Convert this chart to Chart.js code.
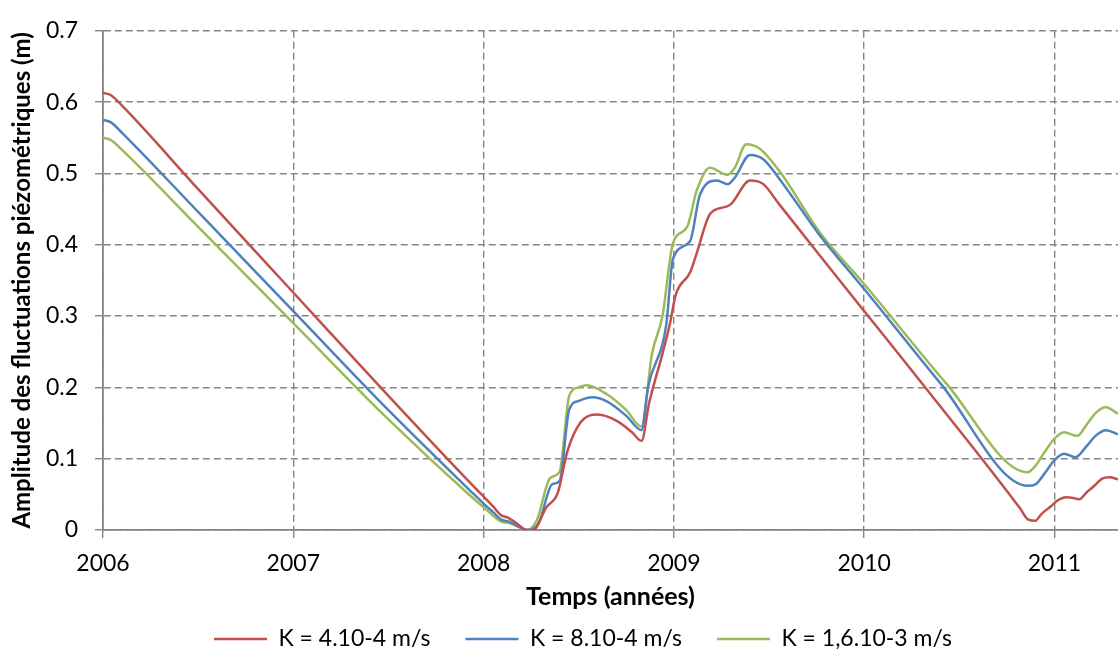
<!DOCTYPE html>
<html>
<head>
<meta charset="utf-8">
<script src="https://cdn.jsdelivr.net/npm/chart.js@4.4.1/dist/chart.umd.min.js"></script>
<style>
  html, body { margin: 0; padding: 0; background: #fff; }
  #wrap { width: 1118px; height: 657px; }
</style>
</head>
<body>
<div id="wrap"><canvas id="chart" width="1118" height="657"></canvas></div>
<script>
// values (x = decimal year, y = metres)
const seriesLabels = ['K = 4.10-4 m/s', 'K = 8.10-4 m/s', 'K = 1,6.10-3 m/s'];
const seriesColors = ['#C0504D', '#4F81BD', '#9BBB59'];

const redYears = [2006.00, 2006.04, 2006.10, 2006.5, 2007.0, 2007.5, 2007.93, 2008.0, 2008.05, 2008.09, 2008.13, 2008.17, 2008.228,
  2008.26, 2008.33, 2008.39, 2008.44, 2008.51, 2008.60, 2008.70, 2008.78, 2008.83, 2008.87, 2008.94, 2008.98, 2009.01,
  2009.085, 2009.12, 2009.19, 2009.27, 2009.30, 2009.40, 2009.47, 2009.55, 2009.77, 2010.0, 2010.5, 2010.82, 2010.86,
  2010.90, 2010.93, 2010.98, 2011.02, 2011.06, 2011.10, 2011.13, 2011.17, 2011.21, 2011.25, 2011.29, 2011.334];
const redValues = [0.613, 0.610, 0.595, 0.478, 0.333, 0.188, 0.066, 0.047, 0.033, 0.021, 0.017, 0.010, 0.0,
  0.0, 0.032, 0.052, 0.11, 0.151, 0.162, 0.153, 0.137, 0.125, 0.178, 0.247, 0.29, 0.33,
  0.361, 0.388, 0.443, 0.453, 0.457, 0.490, 0.485, 0.458, 0.384, 0.307, 0.14, 0.03, 0.015,
  0.013, 0.022, 0.033, 0.042, 0.046, 0.045, 0.043, 0.053, 0.062, 0.072, 0.074, 0.071];

const blueYears = [2006.00, 2006.04, 2006.10, 2006.5, 2007.0, 2007.5, 2007.93, 2008.0, 2008.05, 2008.09, 2008.13, 2008.17, 2008.228,
  2008.29, 2008.36, 2008.40, 2008.45, 2008.50, 2008.57, 2008.65, 2008.75, 2008.83, 2008.864, 2008.96, 2008.995,
  2009.085, 2009.137, 2009.226, 2009.284, 2009.32, 2009.40, 2009.47, 2009.55, 2009.77, 2010.0, 2010.40, 2010.86,
  2010.90, 2010.95, 2011.00, 2011.05, 2011.11, 2011.17, 2011.22, 2011.27, 2011.334];
const blueValues = [0.575, 0.572, 0.557, 0.446, 0.307, 0.168, 0.055, 0.037, 0.025, 0.015, 0.012, 0.007, 0.0,
  0.01, 0.064, 0.069, 0.169, 0.181, 0.186, 0.18, 0.16, 0.14, 0.2, 0.288, 0.38,
  0.405, 0.47, 0.49, 0.485, 0.494, 0.526, 0.52, 0.494, 0.412, 0.338, 0.206, 0.062,
  0.064, 0.08, 0.098, 0.107, 0.102, 0.118, 0.133, 0.14, 0.134];

const greenYears = [2006.00, 2006.04, 2006.10, 2006.5, 2007.0, 2007.5, 2007.93, 2008.0, 2008.05, 2008.09, 2008.13, 2008.17, 2008.228,
  2008.28, 2008.35, 2008.40, 2008.45, 2008.50, 2008.54, 2008.65, 2008.75, 2008.83, 2008.885, 2008.94, 2008.995,
  2009.07, 2009.12, 2009.19, 2009.28, 2009.32, 2009.38, 2009.45, 2009.55, 2009.77, 2010.0, 2010.43, 2010.86,
  2010.90, 2010.95, 2011.00, 2011.05, 2011.12, 2011.17, 2011.22, 2011.27, 2011.334];
const greenValues = [0.550, 0.547, 0.533, 0.425, 0.29, 0.155, 0.048, 0.032, 0.02, 0.012, 0.01, 0.006, 0.0,
  0.014, 0.073, 0.082, 0.188, 0.2, 0.203, 0.19, 0.168, 0.145, 0.247, 0.30, 0.402,
  0.425, 0.476, 0.508, 0.498, 0.508, 0.541, 0.535, 0.505, 0.416, 0.345, 0.206, 0.081,
  0.09, 0.11, 0.128, 0.137, 0.132, 0.148, 0.165, 0.172, 0.163];

const yearTicks = [2006, 2007, 2008, 2009, 2010, 2011];
const levelTicks = [0, 0.1, 0.2, 0.3, 0.4, 0.5, 0.6, 0.7];

const toPoints = (xs, ys) => xs.map((x, i) => ({ x: x, y: ys[i] }));
const allYears = [redYears, blueYears, greenYears];
const allValues = [redValues, blueValues, greenValues];

const gridColor = '#858585';
const fontFamily = 'Lato, "Open Sans", sans-serif';
Chart.defaults.font.family = fontFamily;
Chart.defaults.color = '#000';

// legend: fixed height, placed like the original
const legendPlacement = {
  id: 'legendPlacement',
  beforeInit(chart) {
    const fit = chart.legend.fit;
    chart.legend.fit = function () {
      fit.call(this);
      this.height = 40;
    };
  },
  afterLayout(chart) {
    const lg = chart.legend;
    lg.top = 592.5;
    lg.bottom = chart.height;
    lg.height = lg.bottom - lg.top;
    lg.left += 24;
    lg.right += 24;
  }
};

const ctx = document.getElementById('chart').getContext('2d');
new Chart(ctx, {
  type: 'line',
  data: {
    datasets: seriesLabels.map((label, i) => ({
      label: label,
      data: toPoints(allYears[i], allValues[i]),
      borderColor: seriesColors[i],
      backgroundColor: seriesColors[i],
      borderWidth: 2.5,
      pointRadius: 0,
      fill: false,
      cubicInterpolationMode: 'monotone'
    }))
  },
  options: {
    responsive: false,
    animation: false,
    layout: { padding: { top: 20, right: 0, bottom: 0, left: 0 } },
    scales: {
      x: {
        type: 'linear',
        min: yearTicks[0],
        max: 2011.334,
        afterBuildTicks: s => { s.ticks = yearTicks.map(v => ({ value: v })); },
        afterFit: s => { s.height = 87; },
        ticks: {
          includeBounds: false,
          padding: 12,
          font: { size: 23 },
          callback: v => String(v)
        },
        grid: { color: gridColor, lineWidth: 1.4, tickColor: gridColor, tickLength: 8, tickBorderDash: [] },
        border: { color: gridColor, width: 1.8, dash: [7, 4] },
        title: {
          display: true,
          text: 'Temps (années)',
          font: { size: 25, weight: 'bold' },
          padding: { top: 0, bottom: 5 }
        }
      },
      y: {
        min: 0,
        max: 0.7,
        afterBuildTicks: s => { s.ticks = levelTicks.map(v => ({ value: v })); },
        afterFit: s => { s.width = 103; },
        ticks: {
          padding: 17,
          font: { size: 23 },
          callback: v => (v === 0 ? '0' : v.toFixed(1))
        },
        grid: { color: gridColor, lineWidth: 1.4, tickColor: gridColor, tickLength: 8, tickBorderDash: [] },
        border: { color: gridColor, width: 1.8, dash: [7, 4] },
        title: {
          display: true,
          text: 'Amplitude des fluctuations piézométriques (m)',
          font: { size: 24, weight: 'bold' },
          padding: { top: 8, bottom: 0 }
        }
      }
    },
    plugins: {
      legend: {
        position: 'bottom',
        labels: {
          usePointStyle: true,
          pointStyle: 'line',
          pointStyleWidth: 53,
          padding: 35,
          font: { size: 23 }
        }
      },
      tooltip: { enabled: false }
    }
  },
  plugins: [legendPlacement]
});
</script>
</body>
</html>
